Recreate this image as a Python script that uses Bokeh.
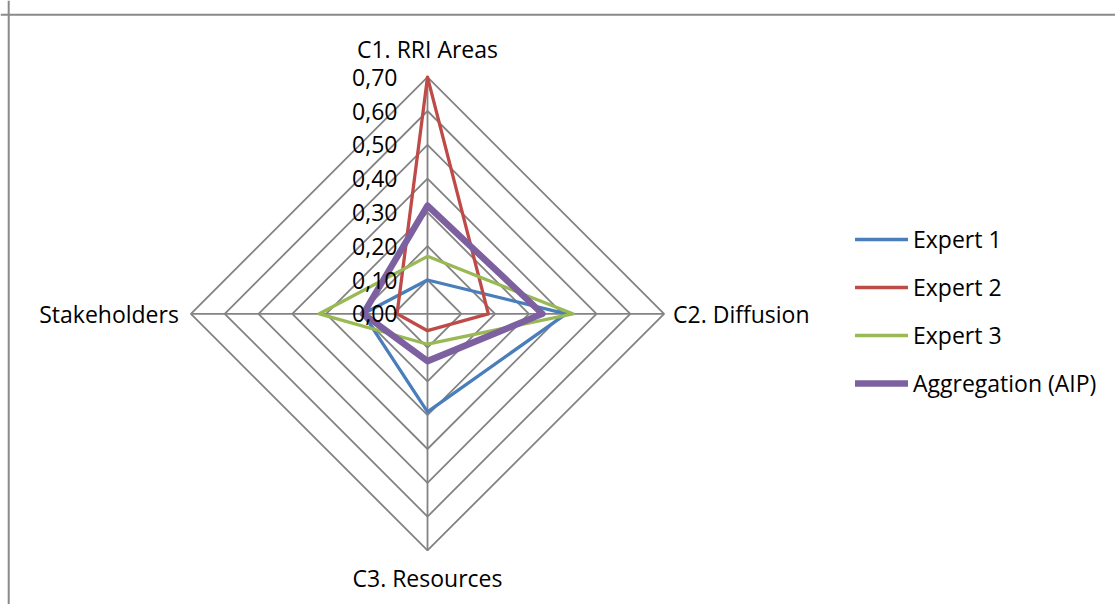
import numpy as np
from bokeh.plotting import figure
from bokeh.models import Range1d, Span, Legend, LegendItem
from bokeh.core.properties import value
from bokeh.embed import file_html
from bokeh.resources import INLINE

# ---- data ----
categories = ["C1. RRI Areas", "C2. Diffusion", "C3. Resources", "Stakeholders"]
expert1 = [0.10, 0.41, 0.29, 0.19]
expert2 = [0.70, 0.18, 0.05, 0.09]
expert3 = [0.17, 0.43, 0.09, 0.32]
aggregation = [0.32, 0.34, 0.14, 0.19]
series_names = ["Expert 1", "Expert 2", "Expert 3", "Aggregation (AIP)"]
tick_values = [0.0, 0.1, 0.2, 0.3, 0.4, 0.5, 0.6, 0.7]
tick_labels = ["0,00", "0,10", "0,20", "0,30", "0,40", "0,50", "0,60", "0,70"]

# ---- layout ----
W, H = 1115, 604
PX = 338.0             # pixels per value unit
CX, CY = 427.0, 313.3  # centre in canvas pixels
RMAX = 0.7
FONT = "Open Sans"
FS = "23px"

x0 = -CX / PX
y1 = CY / PX
p = figure(width=W, height=H, output_backend="svg", toolbar_location=None,
           x_range=Range1d(x0, (W - CX) / PX), y_range=Range1d(-(H - CY) / PX, y1),
           x_axis_type=None, y_axis_type=None, min_border=0)
p.grid.visible = False
p.outline_line_color = None
p.background_fill_color = "white"
p.border_fill_color = "white"

angles = [np.pi / 2, 0.0, -np.pi / 2, np.pi]
cosv = np.round(np.cos(angles), 12)
sinv = np.round(np.sin(angles), 12)

GRID = "#838383"
# grid diamonds
for t in tick_values[1:]:
    xs = list(t * cosv) + [t * cosv[0]]
    ys = list(t * sinv) + [t * sinv[0]]
    p.line(xs, ys, line_color=GRID, line_width=1.8)
# spokes
for c, s in zip(cosv, sinv):
    p.line([0, RMAX * c], [0, RMAX * s], line_color=GRID, line_width=1.8)

colors = ["#4A7EBB", "#BE4B48", "#98B954", "#7D60A0"]
widths = [3.3, 3.3, 3.3, 6.5]
renderers = []
for vals, col, w in zip([expert1, expert2, expert3, aggregation], colors, widths):
    v = np.array(vals)
    xs = list(v * cosv) + [v[0] * cosv[0]]
    ys = list(v * sinv) + [v[0] * sinv[0]]
    r = p.line(xs, ys, line_color=col, line_width=w, line_join="round", line_cap="round")
    renderers.append(r)

# tick labels along C1 axis
p.text(x=[0] * len(tick_values), y=tick_values, text=tick_labels,
       text_align="right", text_baseline="middle", x_offset=-30,
       text_font=value(FONT), text_font_size=FS, text_color="black")

# category labels
p.text(x=[0], y=[RMAX], text=[categories[0]], text_align="center", text_baseline="middle",
       y_offset=-28, text_font=value(FONT), text_font_size=FS, text_color="black")
p.text(x=[RMAX], y=[0], text=[categories[1]], text_align="left", text_baseline="middle",
       x_offset=9, text_font=value(FONT), text_font_size=FS, text_color="black")
p.text(x=[0], y=[-RMAX], text=[categories[2]], text_align="center", text_baseline="middle",
       y_offset=28, text_font=value(FONT), text_font_size=FS, text_color="black")
p.text(x=[-RMAX], y=[0], text=[categories[3]], text_align="right", text_baseline="middle",
       x_offset=-12, text_font=value(FONT), text_font_size=FS, text_color="black")

# outer chart border (top and left edges visible)
p.add_layout(Span(location=x0 + 8.2 / PX, dimension="height", line_color="#8a8a8a", line_width=2))
p.add_layout(Span(location=y1 - 14.2 / PX, dimension="width", line_color="#8a8a8a", line_width=2))

legend = Legend(items=[LegendItem(label=n, renderers=[r]) for n, r in zip(series_names, renderers)],
                location=(855, 205), border_line_color=None, background_fill_alpha=0,
                padding=0, margin=0, glyph_width=53, glyph_height=30, label_height=30,
                label_standoff=5, spacing=16,
                label_text_font=FONT, label_text_font_size=FS, label_text_color="black")
p.add_layout(legend)

open("out.html", "w").write(file_html(p, INLINE))
